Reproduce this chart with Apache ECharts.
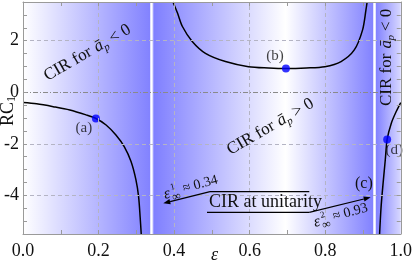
<!DOCTYPE html>
<html><head><meta charset="utf-8">
<script src="https://cdn.jsdelivr.net/npm/echarts@6/dist/echarts.min.js"></script>
<style>html,body{margin:0;padding:0;background:#fff}#c{width:415px;height:260px}</style>
</head><body><div id="c"></div>
<script>
// ---- data ----
const xTickLabels = [0.0, 0.2, 0.4, 0.6, 0.8, 1.0];
const yTickLabels = [-4, -2, 0, 2];
const xGridLines = [0.2, 0.4, 0.6, 0.8];
const yGridLines = [-4, -2, 2];
const yZeroLine = [0];
const regionBounds = [0, 0.345, 0.932, 1.0];
const regionWhitePeak = 0.695;
const branch1 = [[0.000,-0.40],[0.036,-0.45],[0.080,-0.56],[0.124,-0.69],[0.167,-0.88],[0.193,-1.02],
  [0.220,-1.27],[0.246,-1.66],[0.268,-2.11],[0.286,-2.69],[0.299,-3.40],[0.306,-4.05],[0.310,-4.82],[0.313,-5.5]];
const branch2 = [[0.397,3.5],[0.409,3.07],[0.422,2.55],[0.448,1.97],[0.483,1.51],[0.536,1.19],[0.597,0.99],
  [0.650,0.94],[0.696,0.92],[0.750,0.94],[0.799,0.99],[0.842,1.19],[0.877,1.64],[0.899,2.42],[0.908,3.2],[0.911,3.5]];
const branch3 = [[0.944,-5.5],[0.948,-4.44],[0.954,-3.41],[0.959,-2.63],[0.964,-1.83],[0.975,-1.20],[0.988,-0.75],[1.000,-0.40]];
const markedPoints = [[0.193,-1.02],[0.696,0.92],[0.964,-1.83]];
const pointLabels = ['(a)','(b)','(d)'];
const asymptoteLabels = [['1','0.34'],['2','0.93']];

// ---- styles ----
const SERIF = 'Liberation Serif';
const TXT = '#111111';
const AXC = '#9a9a9a';
const BLUE = '#7f7fff';
const pointLabelOffsets = [[-12,10],[-11,-12],[7,11]];

const chart = echarts.init(document.getElementById('c'));
function lg(stops){ return {type:'linear',x:0,y:0,x2:1,y2:0,colorStops:stops}; }
const r2Peak = (regionWhitePeak-regionBounds[1])/(regionBounds[2]-regionBounds[1]);
const regionFills = [
  lg([{offset:0,color:'#ffffff'},{offset:1,color:BLUE}]),
  lg([{offset:0,color:BLUE},{offset:r2Peak,color:'#ffffff'},{offset:1,color:BLUE}]),
  lg([{offset:0,color:BLUE},{offset:1,color:'#d8d8ff'}])
];
const areas = regionFills.map((f,i)=>[{xAxis:regionBounds[i],itemStyle:{color:f,opacity:1}},{xAxis:regionBounds[i+1]}]);

function near(arr,v){ return arr.find(t=>Math.abs(t-v)<1e-6); }
const axisCommon = {
  type:'value', z:5,
  axisLine:{show:true,onZero:false,lineStyle:{color:AXC,width:1}},
  axisTick:{show:true,inside:true,length:4,lineStyle:{color:AXC}},
  splitLine:{show:false}
};

function arrow(x1,y1,x2,y2){
  const a=Math.atan2(y2-y1,x2-x1), L=7, W=2.6;
  const bx=x2-L*Math.cos(a), by=y2-L*Math.sin(a);
  const px=-Math.sin(a)*W, py=Math.cos(a)*W;
  return [
    {type:'line',z:10,shape:{x1:x1,y1:y1,x2:bx,y2:by},style:{stroke:'#000',lineWidth:1.2}},
    {type:'polygon',z:10,shape:{points:[[x2,y2],[bx+px,by+py],[bx-px,by-py]]},style:{fill:'#000'}}
  ];
}
function txt(o){ return Object.assign({fill:TXT,fontFamily:SERIF},o); }
// place rotated pieces of text (local coords) around an anchor, without groups
function place(gx,gy,rotDeg,items){
  const t=rotDeg*Math.PI/180, c=Math.cos(t), s=Math.sin(t);
  return items.map(it=>({type:'text',z:10,rotation:t,
    x:gx+it[0]*c+it[1]*s, y:gy-it[0]*s+it[1]*c, style:txt(it[2])}));
}
function epsLabel(x,y,rotDeg,sup,val){
  return place(x,y,rotDeg,[
    [0,-8,{text:'ε',fontSize:16,fontStyle:'italic'}],
    [8,-10,{text:sup,fontSize:9}],
    [7.5,-1,{text:'∞',fontSize:12}],
    [20,-8,{text:'≈ '+val,fontSize:14}]
  ]);
}
function cirText(x,y,rotDeg,sign){
  return place(x,y,rotDeg,[
    [-49,-9,{text:'CIR for',fontSize:17}],
    [8.5,-9,{text:'ā',fontSize:17,fontStyle:'italic'}],
    [16.5,-1,{text:'p',fontSize:11,fontStyle:'italic'}],
    [26,-9,{text:sign+' 0',fontSize:17}]
  ]);
}

const graphics = [].concat(
  cirText(88,53,30,'<'), cirText(271,127,30,'>'), cirText(387,57,90,'<'),
  [{type:'text',x:209,y:193,z:10,style:txt({text:'CIR at unitarity',fontSize:18})},
   {type:'line',z:10,shape:{x1:210,y1:191.7,x2:309.3,y2:191.7},style:{stroke:'#000',lineWidth:1.3}},
   {type:'line',z:10,shape:{x1:207,y1:212.3,x2:309.3,y2:212.3},style:{stroke:'#000',lineWidth:1.3}},
   {type:'text',x:355,y:176,z:10,style:txt({text:'(c)',fontSize:16})},
   {type:'text',x:211,y:246,z:10,style:txt({text:'ε',fontSize:18,fontStyle:'italic'})}],
  place(8,110,90,[[-16,-9,{text:'RC',fontSize:18}],[8,-2,{text:'1',fontSize:12}]]),
  arrow(210,191.7,163.3,203.3),
  arrow(309.3,212.3,370.7,197.3),
  epsLabel(164,195,15,asymptoteLabels[0][0],asymptoteLabels[0][1]),
  epsLabel(314,223,15,asymptoteLabels[1][0],asymptoteLabels[1][1])
);

const curveStyle = {type:'line',showSymbol:false,smooth:0.3,z:3,silent:true,
  lineStyle:{color:'#000',width:1.5},clip:true};

chart.setOption({
  animation:false,
  grid:{left:23,right:12,top:2,bottom:26,containLabel:false},
  xAxis:[
    Object.assign({},axisCommon,{position:'bottom',min:0,max:1,interval:0.1,
      axisLabel:{show:true,margin:8,fontSize:18,fontFamily:SERIF,color:TXT,
        formatter:v=>{const h=near(xTickLabels,v);return h===undefined?'':h.toFixed(1);}}}),
    Object.assign({},axisCommon,{position:'top',min:0,max:1,interval:0.1,axisLabel:{show:false}})
  ],
  yAxis:[
    Object.assign({},axisCommon,{position:'left',min:-5.5,max:3.5,interval:0.5,
      axisLabel:{show:true,margin:4,fontSize:18,fontFamily:SERIF,color:TXT,
        formatter:v=>{const h=near(yTickLabels,v);return h===undefined?'':String(h);}}}),
    Object.assign({},axisCommon,{position:'right',min:-5.5,max:3.5,interval:0.5,axisLabel:{show:false}})
  ],
  series:[
    {type:'line',data:[],z:1,silent:true,
      markArea:{silent:true,data:areas},
      markLine:{silent:true,symbol:['none','none'],label:{show:false},
        lineStyle:{color:'#ffffff',width:2.5,type:'solid'},
        data:regionBounds.slice(1,3).map(v=>({xAxis:v}))}},
    {type:'line',data:[],z:2,silent:true,
      markLine:{silent:true,symbol:['none','none'],label:{show:false},
        lineStyle:{color:'#b4b4c4',width:1,type:[4,3]},
        data:[].concat(xGridLines.map(v=>({xAxis:v})), yGridLines.map(v=>({yAxis:v})),
          yZeroLine.map(v=>({yAxis:v,lineStyle:{color:'#8a8a8a',type:[5,2,1,2],width:1}})))}},
    Object.assign({},curveStyle,{data:branch1}),
    Object.assign({},curveStyle,{data:branch2}),
    Object.assign({},curveStyle,{data:branch3}),
    {type:'scatter',z:4,symbolSize:8,itemStyle:{color:'#0000ff'},
      data:markedPoints.map((p,i)=>({value:p,label:{show:true,formatter:pointLabels[i],position:'inside',
        offset:pointLabelOffsets[i],fontSize:15,fontFamily:SERIF,color:TXT}}))}
  ],
  graphic:graphics
});
</script></body></html>
